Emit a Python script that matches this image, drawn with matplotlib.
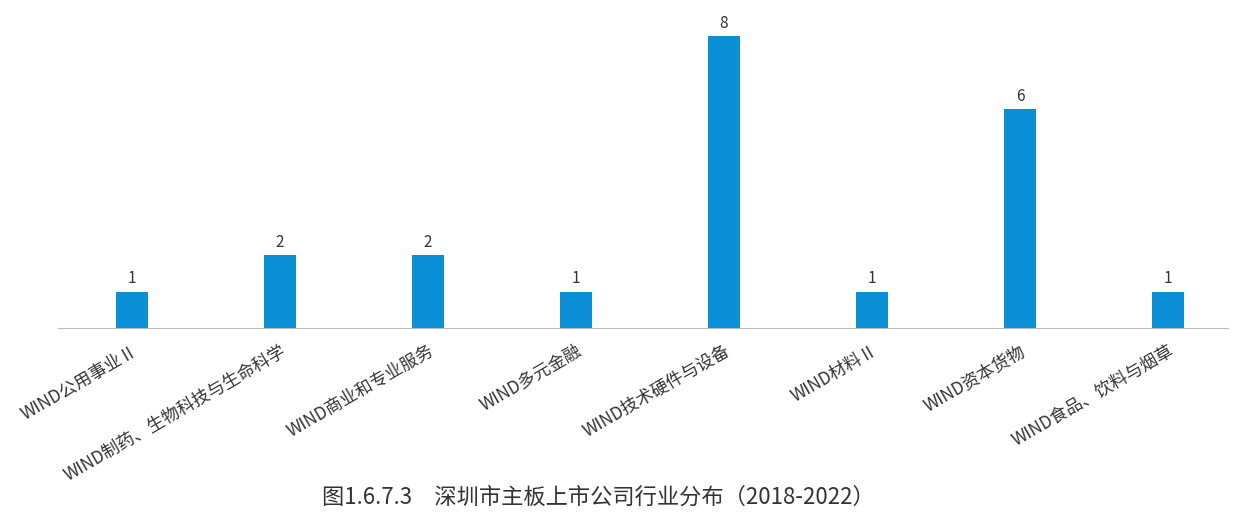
import matplotlib
matplotlib.use("Agg")
import matplotlib.pyplot as plt

categories = ["WIND公用事业Ⅱ", "WIND制药、生物科技与生命科学", "WIND商业和专业服务", "WIND多元金融",
              "WIND技术硬件与设备", "WIND材料Ⅱ", "WIND资本货物", "WIND食品、饮料与烟草"]
values = [1, 2, 2, 1, 8, 1, 6, 1]
title = "图1.6.7.3　深圳市主板上市公司行业分布（2018-2022）"

plt.rcParams['font.family'] = ['Noto Sans CJK SC', 'DejaVu Sans']
fig = plt.figure(figsize=(12.44, 5.24), dpi=100)
ax = fig.add_axes([58/1244, 1-328/524, (1228-58)/1244, 328/524])
x = list(range(len(categories)))
bars = ax.bar(x, values, width=0.216, color="#0b8fd6")
for xi, v in zip(x, values):
    ax.text(xi, v + 0.12, str(v), ha="center", va="bottom", fontsize=11, color="#333333")
ax.set_xlim(-0.5, 7.405)
ax.set_ylim(0, 9.0)
ax.set_xticks(x)
ax.set_xticklabels(categories, rotation=30, ha="right", rotation_mode="anchor", fontsize=12.5, color="#333333")
ax.tick_params(axis="x", length=0, pad=10)
ax.set_yticks([])
for s in ["top", "right", "left"]:
    ax.spines[s].set_visible(False)
ax.spines["bottom"].set_color("#bbbbbb")
fig.text(598/1244, 1-497/524, title, ha="center", va="center", fontsize=16, color="#333333")
fig.savefig("out.png", dpi=100)
